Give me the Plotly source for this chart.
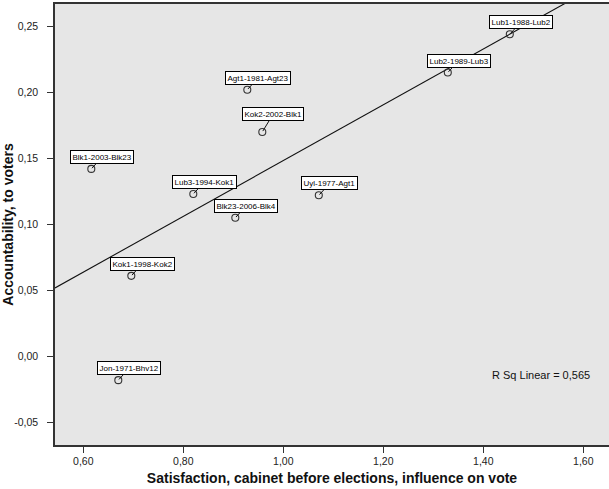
import numpy as np
import plotly.graph_objects as go

# Case labels (party - election year - party)
labels = [
    "Lub1-1988-Lub2", "Lub2-1989-Lub3", "Agt1-1981-Agt23", "Kok2-2002-Blk1",
    "Blk1-2003-Blk23", "Lub3-1994-Kok1", "Uyl-1977-Agt1", "Blk23-2006-Blk4",
    "Kok1-1998-Kok2", "Jon-1971-Bhv12",
]
satisfaction = [1.453, 1.329, 0.928, 0.958, 0.616, 0.820, 1.071, 0.904, 0.696, 0.670]
accountability = [0.244, 0.215, 0.202, 0.170, 0.142, 0.123, 0.122, 0.105, 0.061, -0.018]
# vertical offset of each label box above its point (px)
label_dy = [-12, -12, -12, -18, -12, -12, -12, -12, -12, -12]

x_ticks = [0.60, 0.80, 1.00, 1.20, 1.40, 1.60]
x_tick_text = ["0,60", "0,80", "1,00", "1,20", "1,40", "1,60"]
y_ticks = [-0.05, 0.00, 0.05, 0.10, 0.15, 0.20, 0.25]
y_tick_text = ["-0,05", "0,00", "0,05", "0,10", "0,15", "0,20", "0,25"]

X_RANGE = [0.5434, 1.6514]
Y_RANGE = [-0.0671, 0.2669]

# Ordinary least squares fit
xa = np.array(satisfaction)
ya = np.array(accountability)
slope, intercept = np.polyfit(xa, ya, 1)
r_sq = np.corrcoef(xa, ya)[0, 1] ** 2
fit_x = np.array(X_RANGE)
fit_y = intercept + slope * fit_x

fig = go.Figure()

fig.add_trace(go.Scatter(
    x=fit_x, y=fit_y, mode="lines",
    line=dict(color="#111111", width=1.1),
    hoverinfo="skip", showlegend=False,
))

fig.add_trace(go.Scatter(
    x=satisfaction, y=accountability, mode="markers",
    marker=dict(symbol="circle-open", size=7, color="#333333",
                line=dict(width=1.1, color="#333333")),
    text=labels, showlegend=False,
))

label_font = dict(family="Arial, Liberation Sans, sans-serif", size=8, color="#000000")
for lab, xv, yv, dy in zip(labels, satisfaction, accountability, label_dy):
    fig.add_annotation(
        x=xv, y=yv, text=lab, showarrow=True,
        ax=11, ay=dy, arrowhead=0, arrowwidth=1, arrowcolor="#111111",
        standoff=1,
        font=label_font,
        bgcolor="#ffffff", bordercolor="#000000", borderwidth=1, borderpad=1.5,
    )

fig.add_annotation(
    x=1.515, y=-0.0138, xref="x", yref="y",
    text="R Sq Linear = " + f"{r_sq:.3f}".replace(".", ","),
    showarrow=False,
    font=dict(family="Arial, Liberation Sans, sans-serif", size=11, color="#111111"),
)

axis_font = dict(family="Arial, Liberation Sans, sans-serif", size=10.5, color="#222222")
title_font = dict(family="Arial, Liberation Sans, sans-serif", size=14, color="#111111")

fig.update_layout(
    width=609, height=489,
    margin=dict(l=55, r=0, t=4, b=44),
    paper_bgcolor="#ffffff",
    plot_bgcolor="#e6e6e6",
    xaxis=dict(
        range=X_RANGE, tickvals=x_ticks, ticktext=x_tick_text,
        showgrid=False, zeroline=False,
        showline=True, linecolor="#333333", linewidth=1.5, mirror=True,
        ticks="outside", ticklen=6, tickwidth=1.3, tickcolor="#333333",
        tickfont=axis_font,
        title=dict(text="<b>Satisfaction, cabinet before elections, influence on vote</b>",
                   font=title_font, standoff=7),
    ),
    yaxis=dict(
        range=Y_RANGE, tickvals=y_ticks, ticktext=y_tick_text,
        showgrid=False, zeroline=False,
        showline=True, linecolor="#333333", linewidth=1.5,
        ticks="outside", ticklen=6, tickwidth=1.3, tickcolor="#333333",
        tickfont=axis_font, ticklabelstandoff=7,
        title=dict(text="<b>Accountability, to voters</b>", font=title_font, standoff=0),
    ),
)

fig.write_html("out.html")
